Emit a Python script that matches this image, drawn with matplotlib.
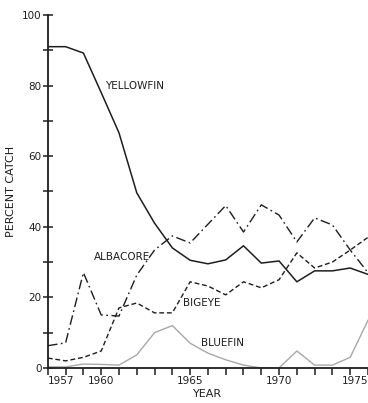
import matplotlib.pyplot as plt
from matplotlib.ticker import MultipleLocator, FixedLocator

# Catch composition by species (percent of catch)
years = list(range(1957, 1976))
yellowfin = [91, 91, 89.2, 78, 66.6, 49.6, 41, 34, 30.5, 29.5, 30.6, 34.6, 29.7, 30.3, 24.4, 27.5, 27.5, 28.3, 26.5]
albacore = [6.3, 7.1, 27, 15, 14.7, 26.3, 33.4, 37.4, 35.4, 40.7, 46, 38.5, 46.2, 43.3, 35.7, 42.5, 40.5, 33.4, 27]
bigeye = [2.8, 2.0, 3.0, 4.8, 17, 18.4, 15.6, 15.6, 24.4, 23.2, 20.7, 24.4, 22.7, 25, 32.6, 28.3, 30, 33.4, 37]
bluefin = [0.3, 0.3, 1.1, 1.0, 0.8, 3.7, 10, 12, 7, 4.2, 2.3, 0.8, 0, 0, 4.8, 0.8, 0.8, 3, 13.5]

major_years = [1957, 1960, 1965, 1970, 1975]
ink = "#1e1e1e"

fig = plt.figure(figsize=(3.68, 4.03), dpi=100)
ax = fig.add_axes([0.130, 0.087, 0.870, 0.876])

ax.plot(years, yellowfin, color=ink, lw=1.1)
ax.plot(years, albacore, color=ink, lw=1.0, linestyle=(0, (7, 2.5, 1.2, 2.5)))
ax.plot(years, bigeye, color=ink, lw=1.0, linestyle=(0, (3.5, 2)))
ax.plot(years, bluefin, color="#a8a8a8", lw=1.0)

ax.set_xlim(1957, 1975)
ax.set_ylim(0, 100)

# series labels sit next to the lines, as in the original
fs = 7.5
ax.text(1960.2, 80, "YELLOWFIN", fontsize=fs, color=ink, va="center")
ax.text(1959.6, 31.5, "ALBACORE", fontsize=fs, color=ink, va="center")
ax.text(1964.6, 18.5, "BIGEYE", fontsize=fs, color=ink, va="center")
ax.text(1965.6, 7, "BLUEFIN", fontsize=fs, color=ink, va="center")

ax.set_xlabel("YEAR", fontsize=8, color=ink, labelpad=2)
ax.set_ylabel("PERCENT CATCH", fontsize=8, color=ink, labelpad=4)

ax.spines["top"].set_visible(False)
ax.spines["right"].set_visible(False)
for s in ("left", "bottom"):
    ax.spines[s].set_linewidth(1.3)
    ax.spines[s].set_color(ink)

ax.xaxis.set_major_locator(FixedLocator(major_years))
ax.xaxis.set_minor_locator(MultipleLocator(1))
ax.yaxis.set_major_locator(MultipleLocator(20))
ax.yaxis.set_minor_locator(MultipleLocator(10))

ax.tick_params(axis="x", which="both", direction="out", length=5, width=1.1,
               colors=ink, labelsize=fs, pad=1)
ax.tick_params(axis="y", which="both", direction="inout", length=7, width=1.1,
               colors=ink, labelsize=fs, pad=1)

labels = ax.get_xticklabels()
labels[0].set_horizontalalignment("left")
labels[-1].set_horizontalalignment("right")

fig.savefig("out.png", dpi=100)
